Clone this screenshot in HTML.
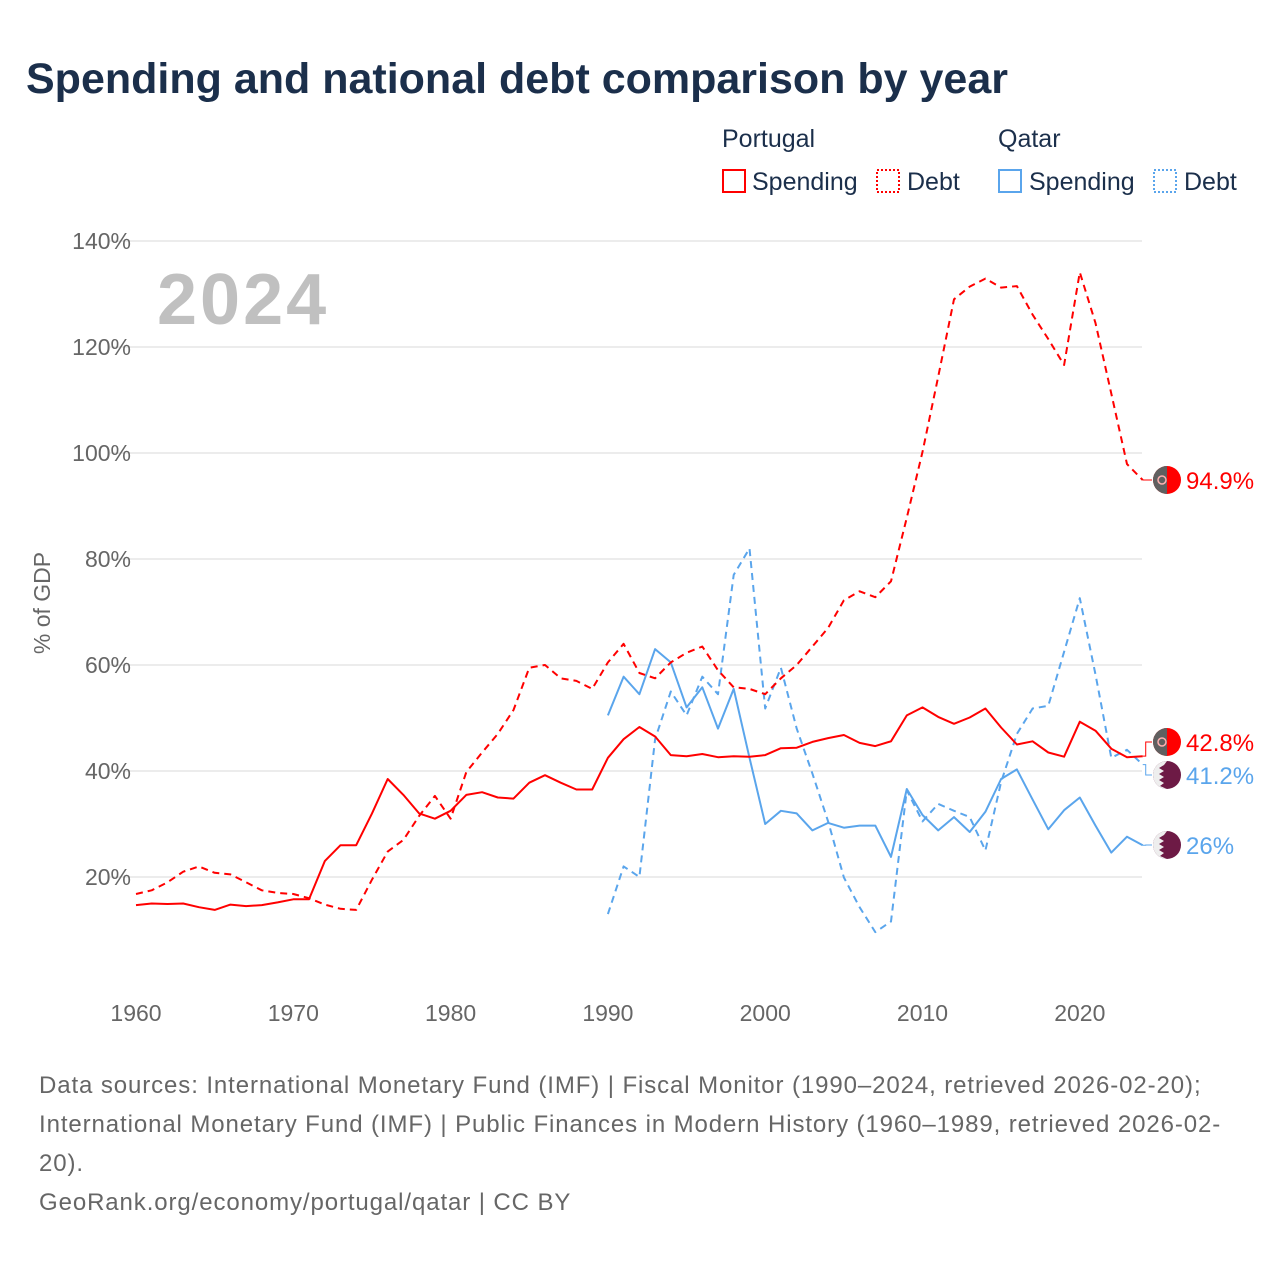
<!DOCTYPE html>
<html><head><meta charset="utf-8"><style>
body{margin:0;background:#fff;font-family:"Liberation Sans",sans-serif;}
svg text{font-family:"Liberation Sans",sans-serif;}
</style></head><body>
<svg id="chart" width="1280" height="1280" viewBox="0 0 1280 1280">
<text x="26" y="93" font-size="43" font-weight="bold" fill="#1b2f4b">Spending and national debt comparison by year</text>
<g font-size="25" fill="#1b2f4b">
<text x="722" y="147">Portugal</text>
<text x="998" y="147">Qatar</text>
<g><rect x="723" y="170" width="22" height="22" fill="none" stroke="#f00" stroke-width="2"/><text x="752" y="190">Spending</text></g>
<g><rect x="877" y="170" width="22" height="22" fill="none" stroke="#f00" stroke-width="2" stroke-dasharray="2,2"/><text x="907" y="190">Debt</text></g>
<g><rect x="999" y="170" width="22" height="22" fill="none" stroke="#5aa5ec" stroke-width="2"/><text x="1029" y="190">Spending</text></g>
<g><rect x="1154" y="170" width="22" height="22" fill="none" stroke="#5aa5ec" stroke-width="2" stroke-dasharray="2,2"/><text x="1184" y="190">Debt</text></g>
</g>
<g id="grid"></g>
<text x="157" y="324" font-size="72" font-weight="bold" fill="#c0c0c0" letter-spacing="3">2024</text>
<text transform="translate(50,603) rotate(-90)" text-anchor="middle" font-size="23" fill="#666">% of GDP</text>
<g id="series"></g>
<g id="labels"></g>
<g font-size="24" fill="#666" letter-spacing="0.9">
<text x="39" y="1093">Data sources: International Monetary Fund (IMF) | Fiscal Monitor (1990–2024, retrieved 2026-02-20);</text>
<text x="39" y="1132">International Monetary Fund (IMF) | Public Finances in Modern History (1960–1989, retrieved 2026-02-</text>
<text x="39" y="1171">20).</text>
<text x="39" y="1210">GeoRank.org/economy/portugal/qatar | CC BY</text>
</g>
</svg>
<script>
const ptSpending=[14.7,15,14.9,15,14.3,13.8,14.8,14.5,14.7,15.2,15.8,15.8,23,26,26,32,38.5,35.5,32,31,32.5,35.5,36,35,34.8,37.8,39.2,37.8,36.5,36.5,42.5,46,48.3,46.5,43,42.8,43.2,42.6,42.8,42.7,43,44.3,44.4,45.5,46.2,46.8,45.3,44.7,45.6,50.5,52,50.2,48.9,50.1,51.8,48.2,45,45.6,43.5,42.7,49.3,47.6,44.2,42.6,42.8];
const ptDebt=[16.8,17.5,19,21,22,20.8,20.5,19,17.5,17,16.8,16,14.8,14,13.8,19.5,24.8,27,31.5,35.3,31,39.8,43.5,47,51.5,59.5,60,57.5,57,55.5,60.5,64,58.5,57.5,60.5,62.3,63.5,59,55.8,55.5,54.5,57.5,60,63.5,67,72.2,73.9,72.8,75.8,87.8,100.2,114.4,129,131.4,132.9,131.2,131.5,126.1,121.5,116.6,134.1,124.5,111.2,97.9,94.9];
const qaSpending=[50.5,57.8,54.5,63,60.5,52,55.8,48,55.5,42.5,30,32.5,32,28.8,30.2,29.3,29.7,29.7,23.8,36.6,31.7,28.8,31.3,28.5,32.3,38.5,40.3,34.6,29,32.6,35,29.7,24.6,27.6,26];
const qaDebt=[13,22,20,46,55,50.5,57.8,54.5,77,82,51.8,59.5,48,39.5,30.5,19.9,14.3,9.6,11.6,36.4,30.5,33.8,32.5,31.3,25,37.9,47,51.8,52.3,62.5,72.6,58.2,42.5,44,41.2];
const yTicks=[20,40,60,80,100,120,140];
const xTicks=[1960,1970,1980,1990,2000,2010,2020];
const x=yr=>136+(yr-1960)*15.73;
const y=v=>983-v*5.3;
const NS="http://www.w3.org/2000/svg";
function mk(tag,attrs,parent){const e=document.createElementNS(NS,tag);for(const k in attrs)e.setAttribute(k,attrs[k]);parent.appendChild(e);return e;}
const grid=document.getElementById('grid');
yTicks.forEach(v=>{
 const l=mk('line',{x1:110,x2:1142,y1:y(v),y2:y(v),stroke:'#e6e6e6','stroke-width':1.5},grid);
 
 
 const t=mk('text',{x:131,y:y(v)+8,'text-anchor':'end','font-size':23,fill:'#666'},grid);
 t.textContent=v+'%';
 
 
});
xTicks.forEach(yr=>{
 const t=mk('text',{x:x(yr),y:1021,'text-anchor':'middle','font-size':23,fill:'#666'},grid);
 t.textContent=yr;
 
 
});
const series=document.getElementById('series');
function line(data,start,color,dash,name){
 const pts=data.map((v,i)=>x(start+i).toFixed(1)+','+y(v).toFixed(1)).join(' ');
 const p=mk('polyline',{points:pts,fill:'none',stroke:color,'stroke-width':2,'stroke-dasharray':dash?'7,5':'none','stroke-linejoin':'round'},series);
 
 
}
line(qaDebt,1990,'#5aa5ec',true,'qatar-debt-line');
line(qaSpending,1990,'#5aa5ec',false,'qatar-spending-line');
line(ptDebt,1960,'#f00',true,'portugal-debt-line');
line(ptSpending,1960,'#f00',false,'portugal-spending-line');
const labels=document.getElementById('labels');
function endLabel(val,ly,color,flag,name){
 const ex=x(2024),ey=y(val);
 mk('polyline',{points:`${ex},${ey} ${ex+3},${ey} ${ex+3},${ly} ${1152},${ly}`,fill:'none',stroke:color,'stroke-width':1},labels);
 const g=mk('g',{},labels);
 
 
 if(flag==='pt'){
  mk('circle',{cx:1167,cy:ly,r:14,fill:'#f00'},g);
  mk('path',{d:`M1167,${ly-14} A14,14 0 0,0 1167,${ly+14} Z`,fill:'#606060'},g);
  mk('circle',{cx:1162,cy:ly,r:4,fill:'none',stroke:'#ffb0b0','stroke-width':1.5},g);
 }else{
  mk('circle',{cx:1167,cy:ly,r:14,fill:'#6d1a45'},g);
  mk('path',{d:`M1167,${ly-14} A14,14 0 0,0 1167,${ly+14} L1160,${ly+11} 1164,${ly+8} 1159,${ly+5} 1164,${ly+2} 1159,${ly-1} 1164,${ly-4} 1159,${ly-7} 1164,${ly-10} Z`,fill:'#eee'},g);
 }
 const t=mk('text',{x:1186,y:ly+9,'font-size':24,fill:color},g);
 t.textContent=(Math.round(val*10)/10)+'%';
}
endLabel(ptDebt[ptDebt.length-1],480,'#f00','pt','label-portugal-debt');
endLabel(ptSpending[ptSpending.length-1],742,'#f00','pt','label-portugal-spending');
endLabel(qaDebt[qaDebt.length-1],775,'#5aa5ec','qa','label-qatar-debt');
endLabel(qaSpending[qaSpending.length-1],845,'#5aa5ec','qa','label-qatar-spending');
</script>
</body></html>
